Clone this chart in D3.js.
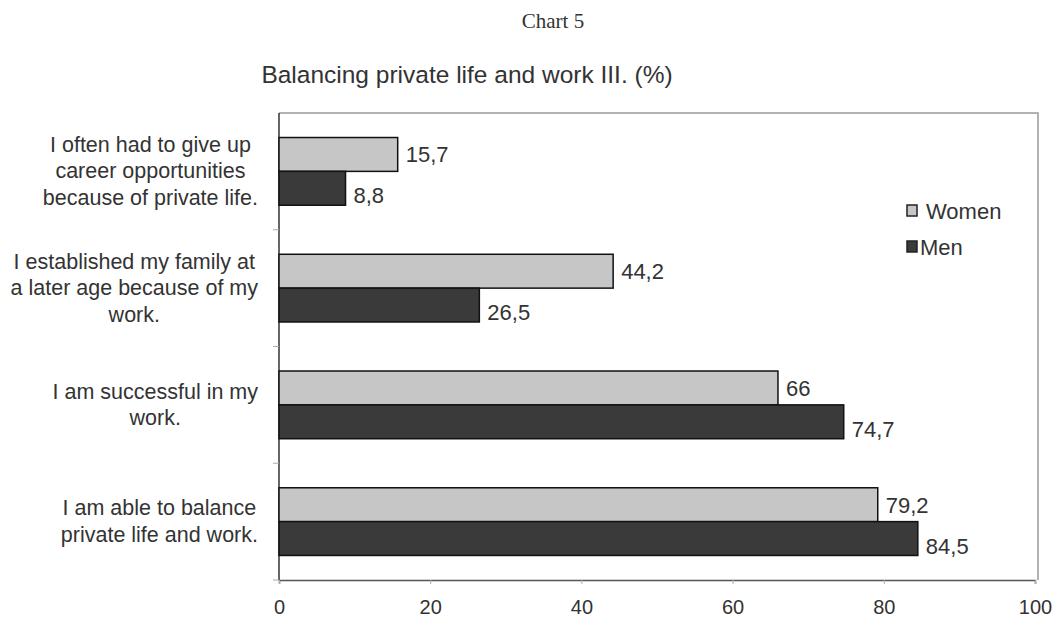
<!DOCTYPE html>
<html>
<head>
<meta charset="utf-8">
<script src="https://cdn.jsdelivr.net/npm/d3@7"></script>
<style>
  body { margin: 0; background: #fff; }
  text { font-family: "Liberation Sans", Arial, sans-serif; fill: #333; }
</style>
</head>
<body>
<div id="chart"></div>
<script>
// chart data
var categoryLines = {
    career: ['I often had to give up', 'career opportunities', 'because of private life.'],
    family: ['I established my family at', 'a later age because of my', 'work.'],
    success: ['I am successful in my', 'work.'],
    balance: ['I am able to balance', 'private life and work.']
};
var order = ['career', 'family', 'success', 'balance'];
var women = { career: 15.7, family: 44.2, success: 66, balance: 79.2 };
var men = { career: 8.8, family: 26.5, success: 74.7, balance: 84.5 };
var seriesNames = ['Women', 'Men'];
var xTicks = [0, 20, 40, 60, 80, 100];

var width = 1052, height = 617;
var plotLeft = 279, plotRight = 1038, plotTop = 113, plotBottom = 580;

var svg = d3.select('#chart').append('svg')
    .attr('width', width)
    .attr('height', height);

var x = d3.scaleLinear().domain([0, 100]).range([plotLeft, plotRight - 3]);
var y = d3.scaleBand().domain(order).range([plotTop, plotBottom]);
var sub = d3.scaleBand().domain(seriesNames).range([y.bandwidth() * 0.21, y.bandwidth() * 0.79]);

function fill(s) {
    return s == 'Women' ? '#c6c6c6' : '#3a3a3a';
}
function fmt(v) {
    return String(v).replace('.', ',');
}

// titles
svg.append('text')
    .attr('x', 553).attr('y', 28)
    .attr('text-anchor', 'middle')
    .style('font-family', '"Liberation Serif", "Times New Roman", serif')
    .style('font-size', '21px')
    .text('Chart 5');

svg.append('text')
    .attr('x', 467).attr('y', 83)
    .attr('text-anchor', 'middle')
    .style('font-size', '24.5px')
    .text('Balancing private life and work III. (%)');

// plot border
svg.append('path')
    .attr('d', 'M' + plotLeft + ',' + plotTop + 'H' + plotRight + 'V' + plotBottom)
    .attr('fill', 'none')
    .attr('stroke', '#999')
    .attr('stroke-width', 1.5);

// x axis
var xAxis = svg.append('g')
    .attr('transform', 'translate(0,' + plotBottom + ')')
    .call(d3.axisBottom(x).tickValues(xTicks).tickSize(4).tickPadding(16));
xAxis.select('.domain').attr('stroke', '#555').attr('stroke-width', 1.5);
xAxis.selectAll('.tick line').attr('stroke', '#aaa');
xAxis.selectAll('text')
    .style('font-size', '20px')
    .attr('fill', '#333');

// y axis line and boundary ticks
svg.append('line')
    .attr('x1', plotLeft).attr('x2', plotLeft)
    .attr('y1', plotTop).attr('y2', plotBottom)
    .attr('stroke', '#333').attr('stroke-width', 1.5);

svg.append('g').selectAll('line')
    .data(order.slice(1).concat(['end']))
    .join('line')
    .attr('x1', plotLeft - 6).attr('x2', plotLeft)
    .attr('y1', function (d) { return d == 'end' ? plotBottom : y(d); })
    .attr('y2', function (d) { return d == 'end' ? plotBottom : y(d); })
    .attr('stroke', '#aaa');

// bars
var groups = svg.append('g').selectAll('g')
    .data(order)
    .join('g')
    .attr('transform', function (d) { return 'translate(0,' + y(d) + ')'; });

groups.selectAll('rect')
    .data(function (d) {
        return [{ s: 'Women', v: women[d] }, { s: 'Men', v: men[d] }];
    })
    .join('rect')
    .attr('x', x(0))
    .attr('y', function (d) { return sub(d.s); })
    .attr('width', function (d) { return x(d.v) - x(0); })
    .attr('height', sub.bandwidth())
    .attr('fill', function (d) { return fill(d.s); })
    .attr('stroke', '#111')
    .attr('stroke-width', 1.5);

groups.selectAll('text.value')
    .data(function (d) {
        return [{ s: 'Women', v: women[d] }, { s: 'Men', v: men[d] }];
    })
    .join('text')
    .attr('class', 'value')
    .attr('x', function (d) { return x(d.v) + 8; })
    .attr('y', function (d) { return sub(d.s) + sub.bandwidth() / 2 + (d.s == 'Men' ? 15 : 8); })
    .style('font-size', '22px')
    .text(function (d) { return fmt(d.v); });

// category labels
var labelRight = 258;
order.forEach(function (c) {
    var lines = categoryLines[c];
    var t = svg.append('text').style('font-size', '21.5px').attr('text-anchor', 'middle');
    var lineH = 26.5;
    var cy = y(c) + y.bandwidth() / 2;
    var y0 = cy - (lines.length - 1) * lineH / 2 + 7;
    lines.forEach(function (l, i) {
        t.append('tspan').attr('x', 0).attr('y', y0 + i * lineH).text(l);
    });
    var maxW = d3.max(t.selectAll('tspan').nodes(), function (n) { return n.getComputedTextLength(); });
    t.selectAll('tspan').attr('x', labelRight - maxW / 2);
});

// legend
var legend = svg.append('g').selectAll('g')
    .data(seriesNames)
    .join('g')
    .attr('transform', function (d, i) { return 'translate(907,' + (205 + i * 36) + ')'; });

legend.append('rect')
    .attr('width', 10).attr('height', 11)
    .attr('fill', function (d) { return fill(d); })
    .attr('stroke', '#222').attr('stroke-width', 1.5);

legend.append('text')
    .attr('x', function (d) { return d == 'Women' ? 19 : 13; })
    .attr('y', 14)
    .style('font-size', '22px')
    .text(function (d) { return d; });
</script>
</body>
</html>
